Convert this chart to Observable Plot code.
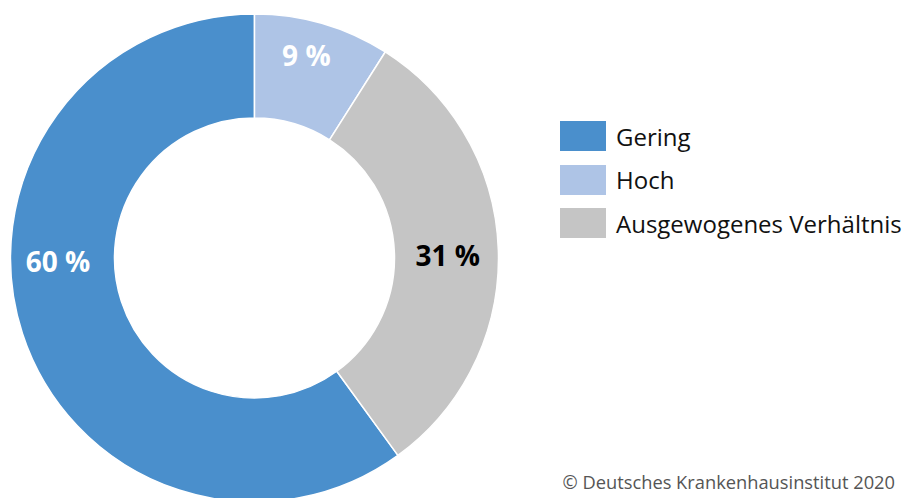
<!DOCTYPE html>
<html>
<head>
<meta charset="utf-8">
<script src="https://cdn.jsdelivr.net/npm/d3@7"></script>
<script src="https://cdn.jsdelivr.net/npm/@observablehq/plot@0.6"></script>
<style>
  html, body { margin: 0; padding: 0; background: #fff; }
  #wrap { position: relative; width: 904px; height: 498px; overflow: hidden; font-family: "Open Sans", sans-serif; }
  #chart { position: absolute; left: 0; top: 0; }
  #legend { position: absolute; left: 560px; top: 121px; width: 600px; }
  #legend * { overflow: visible !important; text-overflow: clip !important; white-space: nowrap; }
  #legend .lg-swatches { font-family: "Open Sans", sans-serif !important; font-size: 24px !important; color: #111; margin: 0 !important; }
  #legend .lg-swatch { display: flex !important; align-items: center; margin: 0 0 13px 0 !important; padding: 0 !important; height: 30.5px; }
  #legend .lg-swatch svg { margin-right: 10px !important; }
  #legend .lg-swatch > span { line-height: 1.4; position: relative; top: 3px; }
  #credit { position: absolute; right: 9px; top: 469px; font-family: "Open Sans", sans-serif; font-size: 18.3px; color: #555; white-space: nowrap; }
</style>
</head>
<body>
<div id="wrap">
  <div id="chart"></div>
  <div id="legend"></div>
  <div id="credit">© Deutsches Krankenhausinstitut 2020</div>
</div>
<script>
// Data
const categories = ["Gering", "Hoch", "Ausgewogenes Verhältnis"];
const shares = [60, 9, 31];
const labels = ["60 %", "9 %", "31 %"];
const colors = ["#4a8fcc", "#aec4e6", "#c5c5c5"];
const labelColors = ["#ffffff", "#ffffff", "#000000"];

const data = categories.map((c, i) => ({category: c, value: shares[i], label: labels[i], color: colors[i], labelColor: labelColors[i]}));
const total = d3.sum(shares);

// Pie layout: first slice ends at 12 o'clock, following slices run clockwise from the top
const start = -2 * Math.PI * shares[0] / total;
const pie = d3.pie().sort(null).value(d => d.value).startAngle(start).endAngle(start + 2 * Math.PI);
const arcs = pie(data);

const innerRatio = 140 / 244;
// label placement (layout only): angle override in degrees and radial factor
const placement = [
  {angle: -90, r: 0.807},
  {angle: 14, r: 0.87},
  {angle: null, r: 0.79}
];
const labelData = arcs.map((a, i) => {
  const p = placement[i];
  const ang = p.angle === null ? (a.startAngle + a.endAngle) / 2 : p.angle * Math.PI / 180;
  return {x: p.r * Math.sin(ang), y: p.r * Math.cos(ang), label: a.data.label, fill: a.data.labelColor};
});

const cx = 254.5, cy = 258, R = 244;

function donut(index, scales) {
  const x0 = scales.x(0), y0 = scales.y(0);
  const outer = scales.x(1) - x0;
  const arc = d3.arc().innerRadius(outer * innerRatio).outerRadius(outer);
  const g = d3.create("svg:g").attr("transform", `translate(${x0},${y0})`);
  g.selectAll("path").data(arcs).join("path")
    .attr("d", arc)
    .attr("fill", d => d.data.color)
    .attr("stroke", "#fff")
    .attr("stroke-width", 1.5)
    .attr("stroke-linejoin", "round");
  return g.node();
}

const chart = Plot.plot({
  width: 904,
  height: 498,
  margin: 0,
  style: {fontFamily: "Open Sans, sans-serif", background: "transparent", overflow: "hidden"},
  x: {domain: [-1, 1], range: [cx - R, cx + R], axis: null},
  y: {domain: [-1, 1], range: [cy + R, cy - R], axis: null},
  marks: [
    donut,
    Plot.text(labelData, {x: "x", y: "y", text: "label", fill: "fill", fontSize: 28, fontWeight: "bold", dy: 5})
  ]
});
document.getElementById("chart").appendChild(chart);

const legend = Plot.legend({
  color: {type: "ordinal", domain: categories, range: colors},
  legend: "swatches",
  columns: 1,
  swatchWidth: 46,
  swatchHeight: 30,
  className: "lg"
});
document.getElementById("legend").appendChild(legend);
</script>
</body>
</html>
